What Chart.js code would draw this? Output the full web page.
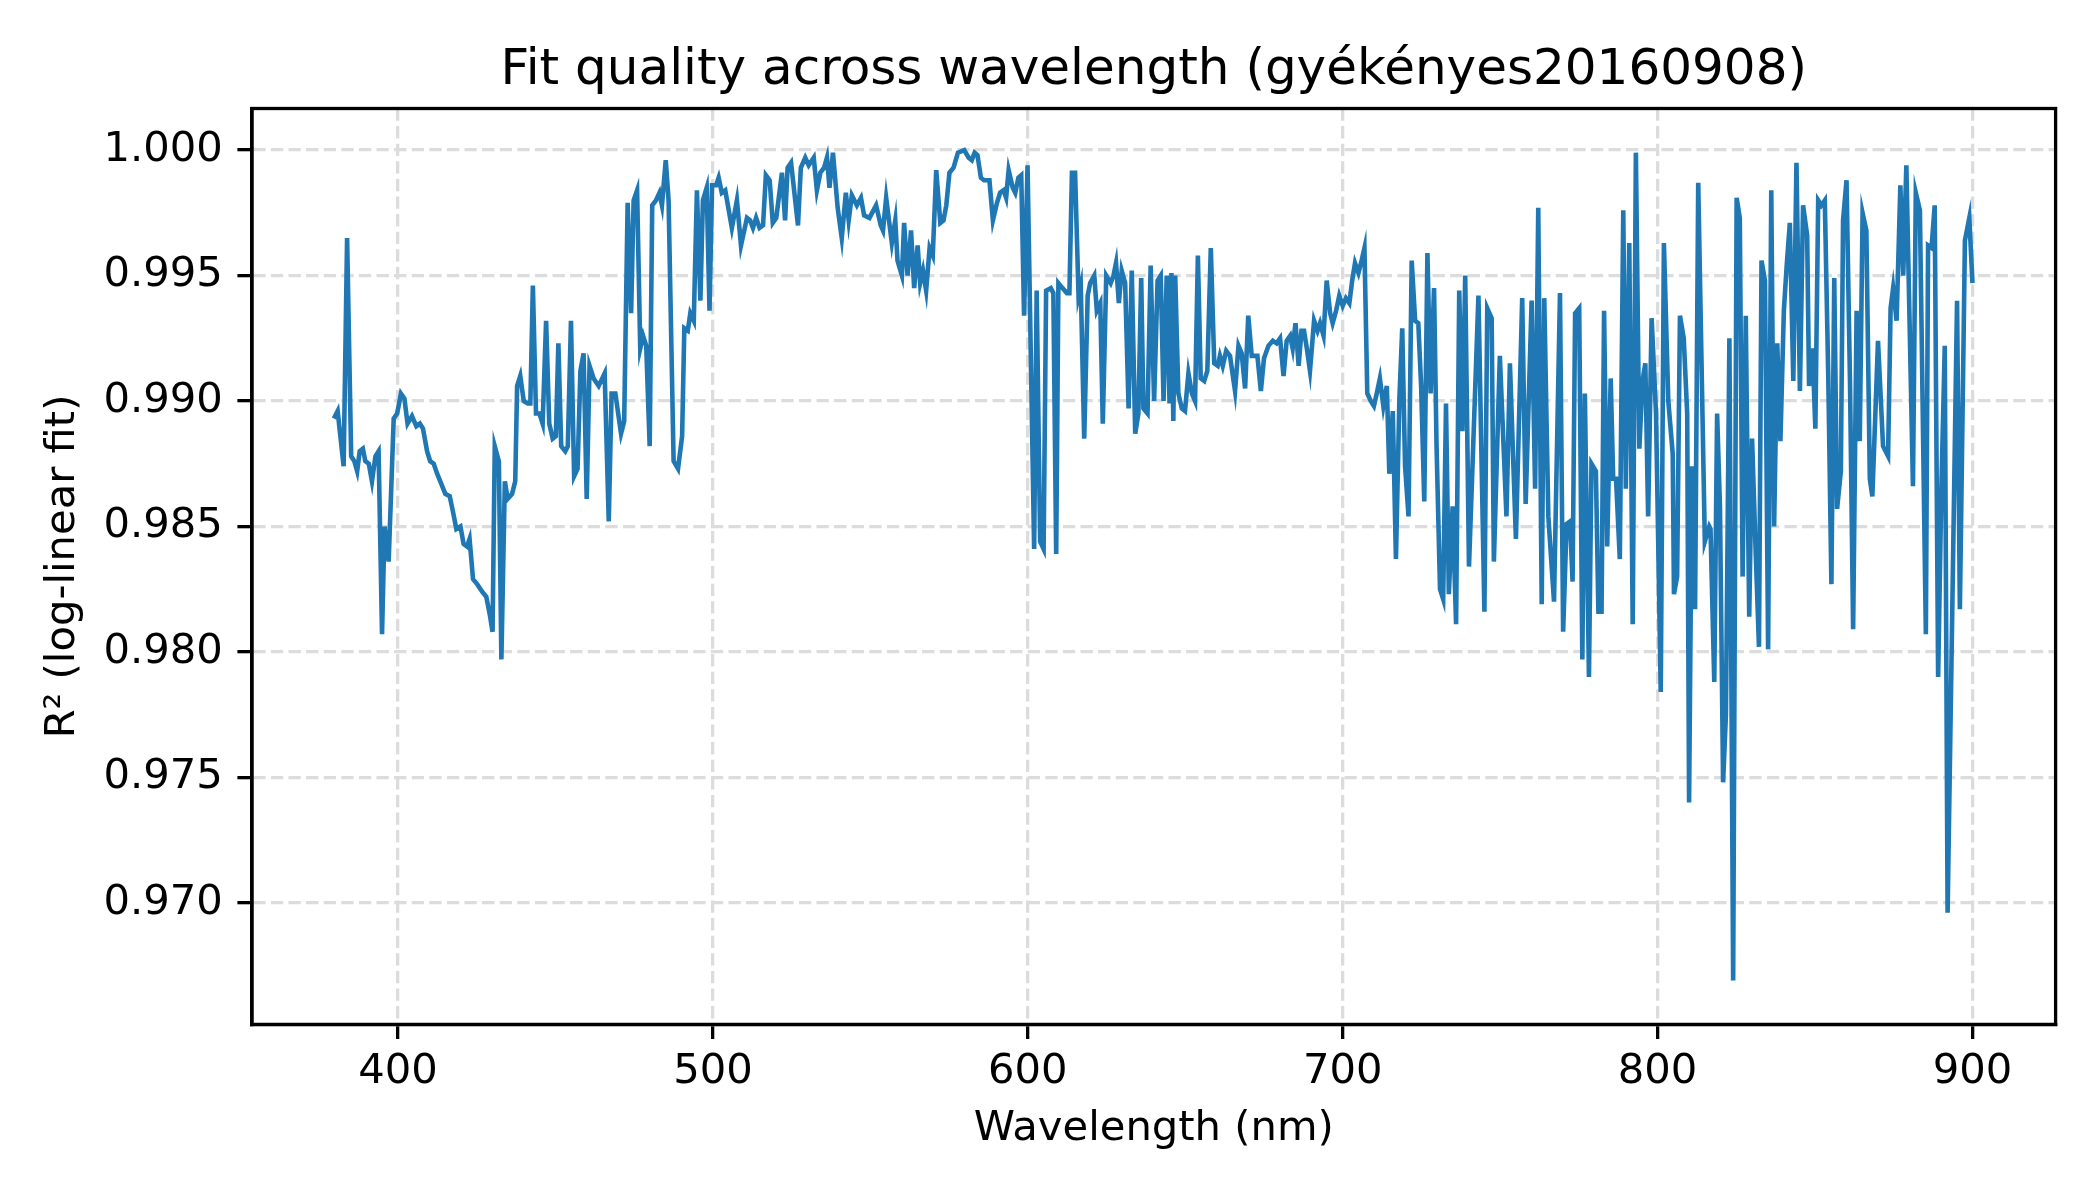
<!DOCTYPE html>
<html>
<head>
<meta charset="utf-8">
<title>Fit quality across wavelength</title>
<script src="https://cdn.jsdelivr.net/npm/chart.js@4.4.1/dist/chart.umd.min.js"></script>
<style>
  html, body { margin: 0; padding: 0; background: #fff; }
  #chart { display: block; }
</style>
</head>
<body>
<canvas id="chart" width="2100" height="1200"></canvas>
<script>
// wavelength (nm) at each vertex of the curve
const wavelengths = [
    379.6, 380.8, 382.7, 383.8, 385.1, 386.1, 387.0, 387.8, 388.8, 389.6,
    390.7, 391.7, 392.8, 393.8, 394.9, 395.7, 397.0, 398.6, 399.7, 400.9,
    402.0, 403.0, 404.4, 405.8, 406.9, 407.9, 409.2, 410.2, 411.3, 412.4,
    413.4, 415.0, 416.4, 417.4, 418.5, 419.8, 420.8, 421.9, 422.7, 423.8,
    425.1, 426.7, 428.0, 429.1, 430.0, 430.7, 432.0, 432.8, 433.9, 434.8,
    436.2, 437.2, 437.8, 438.8, 439.9, 441.2, 442.0, 442.8, 443.8, 444.9,
    445.9, 447.0, 448.0, 449.1, 450.1, 450.9, 451.8, 453.1, 453.9, 454.9,
    455.9, 457.0, 457.9, 458.9, 459.9, 460.8, 462.1, 463.7, 465.6, 466.9,
    467.8, 469.0, 470.8, 471.8, 472.9, 474.0, 474.8, 475.9, 476.9, 477.8,
    478.8, 479.9, 480.7, 481.9, 483.0, 483.8, 485.0, 485.9, 487.5, 488.9,
    490.2, 490.9, 492.0, 492.8, 493.9, 494.9, 496.0, 496.8, 498.0, 498.9,
    499.7, 501.0, 501.8, 502.8, 503.9, 506.0, 507.6, 508.9, 510.8, 511.8,
    512.7, 513.7, 514.8, 515.9, 516.8, 518.0, 519.0, 520.1, 521.9, 522.9,
    523.7, 524.8, 527.0, 527.9, 529.3, 530.4, 532.0, 533.0, 534.1, 535.3,
    536.2, 537.0, 538.1, 539.6, 540.9, 542.2, 543.1, 544.1, 545.7, 547.0,
    548.0, 549.7, 551.8, 553.3, 554.0, 555.0, 556.8, 557.9, 558.6, 560.0,
    560.7, 561.8, 562.9, 563.9, 565.0, 565.8, 566.7, 567.7, 568.8, 569.8,
    570.9, 572.2, 573.2, 574.1, 575.1, 576.4, 577.8, 579.8, 581.2, 582.2,
    583.1, 584.0, 585.1, 586.1, 587.8, 588.9, 590.2, 591.2, 592.3, 593.1,
    593.9, 595.2, 596.0, 597.0, 597.9, 598.8, 599.9, 602.0, 602.8, 603.9,
    605.0, 605.8, 607.3, 608.1, 609.0, 609.7, 611.0, 612.4, 613.2, 614.0,
    615.0, 616.1, 616.8, 617.9, 619.0, 619.8, 621.1, 621.9, 623.0, 623.8,
    624.9, 626.3, 627.2, 628.0, 628.9, 629.8, 630.9, 632.0, 633.0, 634.1,
    635.1, 636.0, 636.7, 638.0, 639.0, 640.1, 641.2, 642.2, 643.1, 644.1,
    645.0, 645.6, 646.2, 646.8, 647.8, 648.9, 649.9, 651.0, 652.1, 653.1,
    654.0, 654.9, 656.0, 657.0, 658.1, 659.2, 660.3, 661.0, 661.9, 663.0,
    664.2, 665.8, 666.9, 667.9, 669.0, 670.0, 671.1, 672.9, 674.0, 675.0,
    676.4, 677.8, 679.0, 680.1, 681.2, 682.2, 683.3, 684.1, 685.0, 686.0,
    686.9, 687.7, 688.6, 689.6, 690.9, 692.0, 692.8, 693.9, 694.9, 696.0,
    696.8, 697.9, 698.9, 700.0, 701.0, 702.1, 703.0, 703.9, 705.0, 706.0,
    706.9, 707.8, 708.9, 709.9, 710.8, 711.8, 712.9, 714.0, 714.8, 715.9,
    716.9, 718.0, 718.9, 719.8, 720.9, 721.9, 723.0, 724.0, 724.9, 725.9,
    726.9, 727.9, 729.0, 729.8, 730.9, 731.9, 732.8, 733.7, 734.9, 736.0,
    737.0, 738.0, 738.9, 740.1, 743.1, 745.0, 745.9, 747.3, 748.0, 749.9,
    752.0, 753.1, 755.0, 757.0, 758.1, 760.0, 761.1, 762.1, 763.2, 764.0,
    765.3, 767.1, 769.0, 770.0, 771.1, 772.2, 773.0, 773.8, 775.1, 776.1,
    776.9, 778.2, 779.0, 780.4, 781.2, 782.2, 783.0, 784.0, 785.1, 785.9,
    786.8, 788.0, 789.1, 789.9, 791.0, 792.1, 793.1, 794.2, 795.2, 796.1,
    797.0, 798.1, 799.5, 801.0, 802.0, 803.4, 804.8, 805.2, 806.2, 807.1,
    808.3, 809.4, 810.0, 810.9, 811.9, 812.9, 815.0, 816.4, 816.8, 818.0,
    818.9, 819.8, 820.8, 821.7, 822.8, 824.0, 825.1, 826.1, 827.0, 828.0,
    829.1, 830.0, 831.2, 832.2, 833.0, 834.1, 835.1, 836.1, 837.0, 838.0,
    839.0, 840.1, 841.0, 842.0, 843.1, 844.1, 845.2, 846.2, 847.5, 848.1,
    849.2, 850.1, 851.0, 852.0, 853.1, 854.2, 855.2, 856.1, 857.0, 858.2,
    858.9, 860.0, 861.1, 862.1, 863.2, 864.2, 865.1, 866.3, 867.4, 868.2,
    870.0, 871.6, 873.2, 874.0, 874.8, 875.9, 877.1, 878.0, 879.0, 881.1,
    882.0, 883.3, 885.2, 885.9, 887.0, 888.0, 889.1, 890.1, 891.2, 892.1,
    895.1, 896.0, 897.6, 899.0, 900.0
];

// R² of the log-linear fit at each wavelength above
const rSquared = [
    0.9893, 0.9896, 0.9874, 0.9965, 0.9878, 0.9876, 0.9872, 0.9880, 0.9881, 0.9876,
    0.9875, 0.9868, 0.9878, 0.9880, 0.9807, 0.9850, 0.9836, 0.9893, 0.9895, 0.9903,
    0.9901, 0.9891, 0.9894, 0.9890, 0.9891, 0.9889, 0.9880, 0.9876, 0.9875, 0.9871,
    0.9868, 0.9863, 0.9862, 0.9856, 0.9849, 0.9850, 0.9843, 0.9842, 0.9845, 0.9829,
    0.9827, 0.9824, 0.9822, 0.9815, 0.9808, 0.9882, 0.9876, 0.9797, 0.9868, 0.9861,
    0.9863, 0.9868, 0.9906, 0.9910, 0.9900, 0.9899, 0.9899, 0.9946, 0.9895, 0.9895,
    0.9891, 0.9932, 0.9891, 0.9885, 0.9886, 0.9923, 0.9882, 0.9880, 0.9882, 0.9932,
    0.9870, 0.9873, 0.9912, 0.9919, 0.9861, 0.9914, 0.9909, 0.9906, 0.9911, 0.9852,
    0.9903, 0.9903, 0.9887, 0.9892, 0.9979, 0.9935, 0.9980, 0.9984, 0.9921, 0.9926,
    0.9922, 0.9882, 0.9978, 0.9980, 0.9983, 0.9978, 0.9996, 0.9980, 0.9876, 0.9873,
    0.9886, 0.9929, 0.9928, 0.9935, 0.9932, 0.9984, 0.9940, 0.9980, 0.9985, 0.9936,
    0.9986, 0.9986, 0.9989, 0.9983, 0.9984, 0.9969, 0.9980, 0.9962, 0.9973, 0.9972,
    0.9969, 0.9973, 0.9969, 0.9970, 0.9990, 0.9988, 0.9971, 0.9973, 0.9991, 0.9972,
    0.9993, 0.9995, 0.9970, 0.9993, 0.9997, 0.9994, 0.9997, 0.9984, 0.9991, 0.9993,
    0.9997, 0.9985, 0.9999, 0.9977, 0.9965, 0.9983, 0.9972, 0.9982, 0.9978, 0.9981,
    0.9974, 0.9973, 0.9978, 0.9970, 0.9968, 0.9981, 0.9963, 0.9972, 0.9956, 0.9950,
    0.9971, 0.9950, 0.9968, 0.9945, 0.9962, 0.9947, 0.9952, 0.9944, 0.9961, 0.9958,
    0.9992, 0.9971, 0.9972, 0.9978, 0.9991, 0.9993, 0.9999, 1.0000, 0.9997, 0.9996,
    0.9999, 0.9998, 0.9989, 0.9988, 0.9988, 0.9972, 0.9979, 0.9983, 0.9984, 0.9981,
    0.9992, 0.9985, 0.9983, 0.9989, 0.9990, 0.9934, 0.9994, 0.9841, 0.9944, 0.9844,
    0.9841, 0.9944, 0.9945, 0.9943, 0.9839, 0.9947, 0.9945, 0.9943, 0.9943, 0.9991,
    0.9991, 0.9942, 0.9946, 0.9885, 0.9942, 0.9947, 0.9950, 0.9936, 0.9939, 0.9891,
    0.9950, 0.9947, 0.9950, 0.9955, 0.9939, 0.9952, 0.9947, 0.9897, 0.9952, 0.9887,
    0.9895, 0.9949, 0.9897, 0.9895, 0.9954, 0.9900, 0.9948, 0.9950, 0.9900, 0.9950,
    0.9899, 0.9951, 0.9892, 0.9950, 0.9903, 0.9897, 0.9896, 0.9911, 0.9903, 0.9900,
    0.9958, 0.9909, 0.9908, 0.9912, 0.9961, 0.9915, 0.9914, 0.9918, 0.9914, 0.9920,
    0.9918, 0.9904, 0.9922, 0.9919, 0.9905, 0.9934, 0.9918, 0.9918, 0.9904, 0.9917,
    0.9922, 0.9924, 0.9923, 0.9925, 0.9910, 0.9924, 0.9926, 0.9921, 0.9931, 0.9914,
    0.9928, 0.9928, 0.9921, 0.9912, 0.9932, 0.9928, 0.9931, 0.9926, 0.9948, 0.9935,
    0.9931, 0.9936, 0.9942, 0.9938, 0.9941, 0.9939, 0.9948, 0.9955, 0.9951, 0.9956,
    0.9961, 0.9903, 0.9900, 0.9898, 0.9903, 0.9909, 0.9898, 0.9906, 0.9871, 0.9896,
    0.9837, 0.9901, 0.9929, 0.9874, 0.9854, 0.9956, 0.9932, 0.9931, 0.9906, 0.9860,
    0.9959, 0.9903, 0.9945, 0.9882, 0.9825, 0.9821, 0.9899, 0.9823, 0.9858, 0.9811,
    0.9944, 0.9888, 0.9950, 0.9834, 0.9942, 0.9816, 0.9937, 0.9933, 0.9836, 0.9918,
    0.9854, 0.9915, 0.9845, 0.9941, 0.9859, 0.9940, 0.9865, 0.9977, 0.9819, 0.9941,
    0.9854, 0.9820, 0.9943, 0.9808, 0.9851, 0.9852, 0.9828, 0.9935, 0.9937, 0.9797,
    0.9903, 0.9790, 0.9875, 0.9872, 0.9816, 0.9816, 0.9936, 0.9842, 0.9909, 0.9869,
    0.9869, 0.9837, 0.9976, 0.9865, 0.9963, 0.9811, 0.9999, 0.9881, 0.9908, 0.9915,
    0.9854, 0.9933, 0.9895, 0.9784, 0.9963, 0.9900, 0.9879, 0.9823, 0.9830, 0.9934,
    0.9925, 0.9895, 0.9740, 0.9874, 0.9817, 0.9987, 0.9844, 0.9850, 0.9849, 0.9788,
    0.9895, 0.9858, 0.9748, 0.9775, 0.9925, 0.9669, 0.9981, 0.9973, 0.9830, 0.9934,
    0.9814, 0.9885, 0.9838, 0.9802, 0.9956, 0.9948, 0.9801, 0.9984, 0.9850, 0.9923,
    0.9884, 0.9936, 0.9954, 0.9971, 0.9908, 0.9995, 0.9904, 0.9978, 0.9966, 0.9906,
    0.9921, 0.9889, 0.9980, 0.9978, 0.9980, 0.9910, 0.9827, 0.9949, 0.9857, 0.9872,
    0.9972, 0.9988, 0.9908, 0.9809, 0.9936, 0.9884, 0.9975, 0.9968, 0.9869, 0.9862,
    0.9924, 0.9882, 0.9878, 0.9937, 0.9945, 0.9932, 0.9986, 0.9950, 0.9994, 0.9866,
    0.9983, 0.9976, 0.9807, 0.9962, 0.9961, 0.9978, 0.9790, 0.9864, 0.9922, 0.9696,
    0.9940, 0.9817, 0.9964, 0.9973, 0.9947
];

const xTicks = [400, 500, 600, 700, 800, 900];
const yTicks = [0.970, 0.975, 0.980, 0.985, 0.990, 0.995, 1.000];

const FONT = "'DejaVu Sans', sans-serif";
Chart.defaults.color = '#000';
Chart.defaults.font.family = FONT;

// matplotlib-like box round the plot area, title centred over the axes
const frame = {
    id: 'frame',
    afterLayout(chart) {
        const t = chart.titleBlock;
        if (t) {
            t.left = chart.chartArea.left;
            t.right = chart.chartArea.right;
            t.width = t.right - t.left;
        }
    },
    afterDatasetsDraw(chart) {
        const { ctx, chartArea: a } = chart;
        ctx.save();
        ctx.strokeStyle = '#000';
        ctx.lineWidth = 3.3;
        ctx.strokeRect(a.left, a.top, a.right - a.left, a.bottom - a.top);
        ctx.restore();
    }
};

const points = wavelengths.map((w, i) => ({ x: w, y: rSquared[i] }));

const gridOpts = {
    color: '#dcdcdc',
    lineWidth: 3.3,
    tickColor: '#000',
    tickWidth: 3.3,
    tickLength: 14.6,
    tickBorderDash: []
};

new Chart(document.getElementById('chart'), {
    type: 'line',
    data: {
        datasets: [{
            data: points,
            borderColor: '#1f77b4',
            borderWidth: 4.6,
            pointRadius: 0,
            fill: false,
            tension: 0
        }]
    },
    options: {
        responsive: false,
        animation: false,
        devicePixelRatio: 1,
        layout: { padding: { left: 0, right: 44.4, top: 0, bottom: 0 } },
        plugins: {
            legend: { display: false },
            tooltip: { enabled: false },
            title: {
                display: true,
                text: 'Fit quality across wavelength (gyékényes20160908)',
                color: '#000',
                font: { family: FONT, size: 50, weight: 'normal', lineHeight: 1.2 },
                padding: { top: 41, bottom: 7.5 }
            }
        },
        scales: {
            x: {
                type: 'linear',
                min: 353.6,
                max: 926.4,
                afterBuildTicks: s => { s.ticks = xTicks.map(v => ({ value: v })); },
                afterFit: s => { s.height = 175.6; },
                ticks: {
                    font: { size: 41.7 },
                    padding: 8,
                    maxRotation: 0,
                    callback: v => String(v)
                },
                grid: gridOpts,
                border: { display: true, color: '#000', width: 3.3, dash: [12.3, 5.3] },
                title: {
                    display: true,
                    text: 'Wavelength (nm)',
                    font: { size: 41.7, lineHeight: 1.2 },
                    padding: { top: 0, bottom: 46 }
                }
            },
            y: {
                type: 'linear',
                min: 0.96515,
                max: 1.00166,
                afterBuildTicks: s => { s.ticks = yTicks.map(v => ({ value: v })); },
                afterFit: s => { s.width = 252; },
                ticks: {
                    font: { size: 41.7 },
                    padding: 14.6,
                    callback: v => v.toFixed(3)
                },
                grid: gridOpts,
                border: { display: true, color: '#000', width: 3.3, dash: [12.3, 5.3] },
                title: {
                    display: true,
                    text: 'R² (log-linear fit)',
                    font: { size: 41.7, lineHeight: 1.2 },
                    padding: { top: 38, bottom: 0 }
                }
            }
        }
    },
    plugins: [frame]
});
</script>
</body>
</html>
